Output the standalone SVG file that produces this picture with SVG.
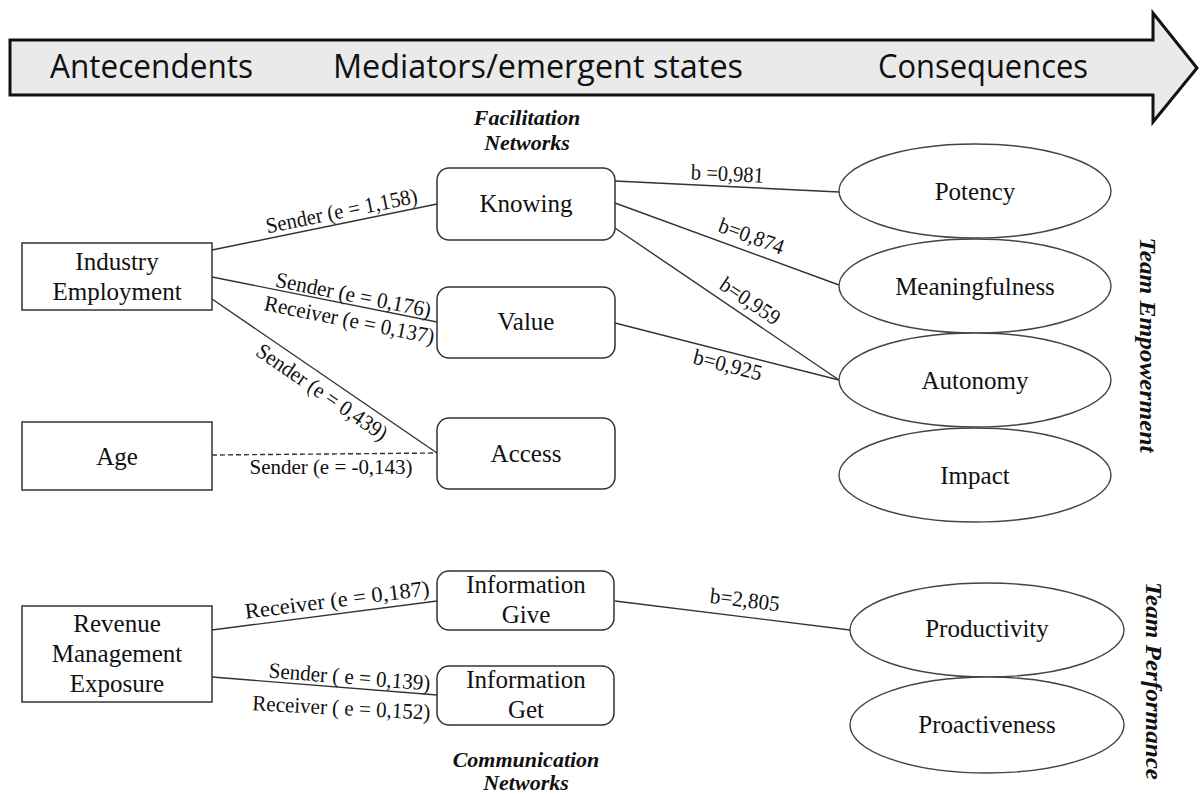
<svg xmlns="http://www.w3.org/2000/svg" width="1200" height="794" viewBox="0 0 1200 794">
<style>
.bg{fill:#ffffff}
.arrow{fill:#eaeaea;stroke:#111;stroke-width:3;stroke-linejoin:miter}
.ah{font-family:"Open Sans","Liberation Sans",sans-serif;font-size:32px;fill:#111}
.box{fill:#fff;stroke:#333;stroke-width:1.5}
.ell{fill:#fff;stroke:#444;stroke-width:1.4}
.nt{font-family:"Liberation Serif","Times New Roman",serif;font-size:25px;fill:#111;text-anchor:middle}
.lbl{font-family:"Liberation Serif","Times New Roman",serif;font-size:22px;fill:#111;text-anchor:middle}
.grp{font-family:"Liberation Serif","Times New Roman",serif;font-size:22px;font-weight:bold;font-style:italic;fill:#111;text-anchor:middle}
.side{font-family:"Liberation Serif","Times New Roman",serif;font-size:24px;font-weight:bold;font-style:italic;fill:#111;text-anchor:middle}
.ln{stroke:#333;stroke-width:1.4;fill:none}
.dash{stroke:#333;stroke-width:1.4;fill:none;stroke-dasharray:5 3}
</style>
<rect class="bg" x="0" y="0" width="1200" height="794"/>

<g id="timeline">
  <path class="arrow" d="M10,40 H1153 V13 L1197,68 L1153,122 V95 H10 Z"/>
  <text class="ah" x="50" y="78" textLength="203" lengthAdjust="spacingAndGlyphs">Antecendents</text>
  <text class="ah" x="333" y="78" textLength="410" lengthAdjust="spacingAndGlyphs">Mediators/emergent states</text>
  <text class="ah" x="878" y="78" textLength="210" lengthAdjust="spacingAndGlyphs">Consequences</text>
</g>

<g id="group-labels">
  <text class="grp" x="527" y="125">Facilitation</text>
  <text class="grp" x="527" y="150">Networks</text>
  <text class="grp" x="526" y="767">Communication</text>
  <text class="grp" x="526" y="790">Networks</text>
  <text class="side" transform="translate(1140,345) rotate(90)" textLength="215" lengthAdjust="spacingAndGlyphs">Team Empowerment</text>
  <text class="side" transform="translate(1146,681) rotate(90)" textLength="198" lengthAdjust="spacingAndGlyphs">Team Performance</text>
</g>

<g id="connectors">
  <line class="ln" x1="212" y1="250" x2="437" y2="204"/>
  <line class="ln" x1="212" y1="277" x2="437" y2="322"/>
  <line class="ln" x1="212" y1="299" x2="437" y2="453"/>
  <line class="dash" x1="212" y1="455" x2="437" y2="453"/>
  <line class="ln" x1="615" y1="181" x2="839" y2="192"/>
  <line class="ln" x1="615" y1="203" x2="839" y2="285"/>
  <line class="ln" x1="615" y1="228" x2="839" y2="380"/>
  <line class="ln" x1="615" y1="323" x2="839" y2="380"/>
  <line class="ln" x1="212" y1="630" x2="437" y2="601"/>
  <line class="ln" x1="212" y1="677" x2="437" y2="695"/>
  <line class="ln" x1="615" y1="601" x2="850" y2="630"/>

  <text class="lbl" transform="translate(343,218) rotate(-11.6)" textLength="154" lengthAdjust="spacingAndGlyphs">Sender (e = 1,158)</text>
  <text class="lbl" transform="translate(352,302) rotate(11.3)" textLength="158" lengthAdjust="spacingAndGlyphs">Sender (e = 0,176)</text>
  <text class="lbl" transform="translate(348,327) rotate(11.3)" textLength="173" lengthAdjust="spacingAndGlyphs">Receiver (e = 0,137)</text>
  <text class="lbl" transform="translate(318,398) rotate(34.4)" textLength="154" lengthAdjust="spacingAndGlyphs">Sender (e = 0,439)</text>
  <text class="lbl" x="331" y="474" textLength="163" lengthAdjust="spacingAndGlyphs">Sender (e = -0,143)</text>
  <text class="lbl" transform="translate(727,181) rotate(2.8)" textLength="73" lengthAdjust="spacingAndGlyphs">b =0,981</text>
  <text class="lbl" transform="translate(749,243) rotate(20.1)" textLength="68" lengthAdjust="spacingAndGlyphs">b=0,874</text>
  <text class="lbl" transform="translate(746,307) rotate(34.2)" textLength="68" lengthAdjust="spacingAndGlyphs">b=0,959</text>
  <text class="lbl" transform="translate(726,372) rotate(14.3)" textLength="70" lengthAdjust="spacingAndGlyphs">b=0,925</text>
  <text class="lbl" transform="translate(744,607) rotate(7)" textLength="70" lengthAdjust="spacingAndGlyphs">b=2,805</text>
  <text class="lbl" transform="translate(338,607) rotate(-7.3)" textLength="186" lengthAdjust="spacingAndGlyphs">Receiver (e = 0,187)</text>
  <text class="lbl" transform="translate(349,684) rotate(4.6)" textLength="162" lengthAdjust="spacingAndGlyphs">Sender ( e = 0,139)</text>
  <text class="lbl" transform="translate(341,715) rotate(3)" textLength="178" lengthAdjust="spacingAndGlyphs">Receiver ( e = 0,152)</text>
</g>

<g id="industry-employment">
  <rect class="box" x="22" y="243" width="190" height="67"/>
  <text class="nt" x="117" y="270">Industry</text>
  <text class="nt" x="117" y="300">Employment</text>
</g>
<g id="age">
  <rect class="box" x="22" y="422" width="190" height="68"/>
  <text class="nt" x="117" y="465">Age</text>
</g>
<g id="revenue-management-exposure">
  <rect class="box" x="22" y="606" width="190" height="96"/>
  <text class="nt" x="117" y="632">Revenue</text>
  <text class="nt" x="117" y="662">Management</text>
  <text class="nt" x="117" y="692">Exposure</text>
</g>

<g id="knowing">
  <rect class="box" x="437" y="168" width="178" height="72" rx="12"/>
  <text class="nt" x="526" y="212">Knowing</text>
</g>
<g id="value">
  <rect class="box" x="437" y="287" width="178" height="71" rx="12"/>
  <text class="nt" x="526" y="330">Value</text>
</g>
<g id="access">
  <rect class="box" x="437" y="418" width="178" height="71" rx="12"/>
  <text class="nt" x="526" y="462">Access</text>
</g>
<g id="information-give">
  <rect class="box" x="437" y="571" width="177" height="59" rx="12"/>
  <text class="nt" x="526" y="593">Information</text>
  <text class="nt" x="526" y="623">Give</text>
</g>
<g id="information-get">
  <rect class="box" x="437" y="666" width="177" height="59" rx="12"/>
  <text class="nt" x="526" y="688">Information</text>
  <text class="nt" x="526" y="718">Get</text>
</g>

<g id="potency">
  <ellipse class="ell" cx="975" cy="191" rx="136" ry="47"/>
  <text class="nt" x="975" y="200">Potency</text>
</g>
<g id="meaningfulness">
  <ellipse class="ell" cx="975" cy="286" rx="136" ry="47"/>
  <text class="nt" x="975" y="295">Meaningfulness</text>
</g>
<g id="autonomy">
  <ellipse class="ell" cx="975" cy="380" rx="136" ry="47"/>
  <text class="nt" x="975" y="389">Autonomy</text>
</g>
<g id="impact">
  <ellipse class="ell" cx="975" cy="475" rx="136" ry="47"/>
  <text class="nt" x="975" y="484">Impact</text>
</g>
<g id="productivity">
  <ellipse class="ell" cx="987" cy="630" rx="137" ry="47"/>
  <text class="nt" x="987" y="637">Productivity</text>
</g>
<g id="proactiveness">
  <ellipse class="ell" cx="987" cy="725" rx="137" ry="48"/>
  <text class="nt" x="987" y="733">Proactiveness</text>
</g>
</svg>
